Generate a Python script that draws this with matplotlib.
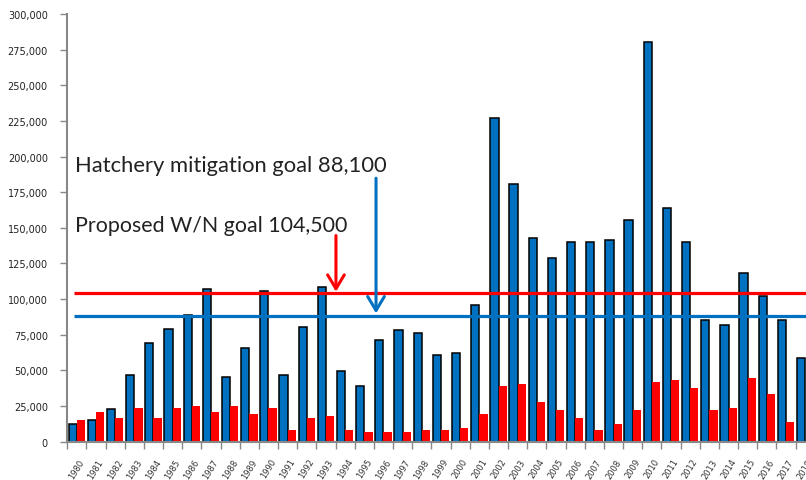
import numpy as np
import matplotlib
matplotlib.use("Agg")
import matplotlib.pyplot as plt
from matplotlib.ticker import FuncFormatter, FixedLocator

years = list(range(1980, 2019))
hatchery = [12100, 14900, 23100, 47000, 69400, 79200, 89200, 107200, 45600, 65700,
            105800, 47000, 80600, 108600, 49500, 38800, 71000, 78000, 76400, 61000,
            62400, 96000, 226900, 180800, 142800, 128800, 140000, 140000, 141600, 155400,
            280200, 163800, 140000, 85500, 82000, 118500, 101900, 85300, 58700]
natural = [15200, 20800, 16600, 23600, 16600, 23600, 25000, 20800, 25000, 19400,
           23600, 8400, 16600, 18000, 8400, 7000, 7000, 7000, 8400, 8400,
           9800, 19600, 39300, 40700, 28000, 22400, 16800, 8400, 12600, 22400,
           42000, 43400, 37800, 22400, 23800, 44900, 33600, 14000, np.nan]
hatchery_goal = 88100
wn_goal = 104500
hatchery_label = "Hatchery mitigation goal 88,100"
wn_label = "Proposed W/N goal 104,500"
yticks = list(range(0, 300001, 25000))

BLUE = "#0070C0"
RED = "#FF0000"

fig = plt.figure(figsize=(8.06, 4.81), dpi=100)
ax = fig.add_axes([67.2 / 806, 38.3 / 481, 1 - 67.2 / 806, (442.7 - 15) / 481])

x = np.arange(len(years))
w = 0.43
ax.bar(x - w / 2, hatchery, width=w, color=BLUE, edgecolor="black", linewidth=1.1, zorder=2)
ax.bar(x + w / 2, natural, width=w, color=RED, edgecolor="none", zorder=2)

ax.plot([-0.15, 40], [wn_goal, wn_goal], color=RED, lw=2.3, zorder=3, solid_capstyle="butt")
ax.plot([-0.15, 40], [hatchery_goal, hatchery_goal], color=BLUE, lw=2.3, zorder=3, solid_capstyle="butt")

astyle = "->,head_length=1.0,head_width=0.6"
ax.annotate("", xy=(13.52, 105200), xytext=(13.52, 144600),
            arrowprops=dict(arrowstyle=astyle, color=RED, lw=2.2, shrinkA=0, shrinkB=0), zorder=4)
ax.annotate("", xy=(15.61, 90000), xytext=(15.61, 184800),
            arrowprops=dict(arrowstyle=astyle, color=BLUE, lw=2.2, shrinkA=0, shrinkB=0), zorder=4)

ax.text(-0.09, 189700, hatchery_label, fontsize=15.8, family=["Lato", "DejaVu Sans"],
        color="#222222", va="baseline", ha="left", zorder=5)
ax.text(-0.09, 148000, wn_label, fontsize=15.4, family=["Lato", "DejaVu Sans"],
        color="#222222", va="baseline", ha="left", zorder=5)

ax.set_xlim(-0.5, 38.04)
ax.set_ylim(0, 300000)

ax.set_yticks(yticks)
ax.yaxis.set_major_formatter(FuncFormatter(lambda v, p: f"{int(v):,}"))
ax.tick_params(axis="y", direction="out", length=5, width=1, color="#888888",
               labelsize=7, labelcolor="#222222", pad=9)

ax.xaxis.set_major_locator(FixedLocator(np.arange(-0.5, 39, 1)))
ax.xaxis.set_major_formatter(FuncFormatter(lambda v, p: ""))
ax.set_xticks(x, minor=True)
ax.set_xticklabels([str(y) for y in years], minor=True, rotation=58, ha="center",
                   fontsize=6, color="#333333")
ax.tick_params(axis="x", which="major", direction="out", length=5, width=1, color="#888888")
ax.tick_params(axis="x", which="minor", length=0, pad=11)

for s in ["top", "right"]:
    ax.spines[s].set_visible(False)
for s in ["left", "bottom"]:
    ax.spines[s].set_color("#888888")
    ax.spines[s].set_linewidth(1.5)

fig.savefig("out.png", dpi=100)
